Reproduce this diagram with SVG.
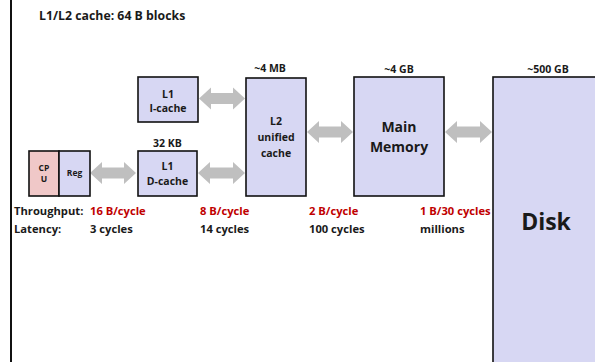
<svg xmlns="http://www.w3.org/2000/svg" width="595" height="362" viewBox="0 0 595 362">
<style>
text{font-family:"Open Sans","Liberation Sans",sans-serif;font-weight:700;fill:#1a1a1a}
.box{fill:#d7d7f3;stroke:#111;stroke-width:1.6}
.cpu{fill:#f0c8c8;stroke:#111;stroke-width:1.6}
.arr{fill:#bfbfbf}
.s{font-size:10.5px}
.t{font-size:11.2px}
.c{text-anchor:middle}
.red{fill:#c00000}
</style>
<rect width="595" height="362" fill="#fff"/>
<line x1="11" y1="0" x2="11" y2="362" stroke="#111" stroke-width="2"/>
<text x="39" y="19.5" font-size="12.3">L1/L2 cache: 64 B blocks</text>

<g id="connectors">
<path class="arr" d="M90,173 L102,162 L102,167.5 L124,167.5 L124,162 L136,173 L124,184 L124,178.5 L102,178.5 L102,184 Z"/>
<path class="arr" d="M198,173 L210,162 L210,167.5 L233,167.5 L233,162 L245,173 L233,184 L233,178.5 L210,178.5 L210,184 Z"/>
<path class="arr" d="M199,98.5 L211,87.5 L211,93 L233,93 L233,87.5 L245,98.5 L233,109.5 L233,104 L211,104 L211,109.5 Z"/>
<path class="arr" d="M307,132 L319,121 L319,126.5 L341,126.5 L341,121 L353,132 L341,143 L341,137.5 L319,137.5 L319,143 Z"/>
<path class="arr" d="M445,132 L457,121 L457,126.5 L480,126.5 L480,121 L492,132 L480,143 L480,137.5 L457,137.5 L457,143 Z"/>
</g>

<g id="cpu">
<rect class="cpu" x="29" y="151" width="30" height="45"/>
<text class="c" x="44" y="171" font-size="8.5">CP</text>
<text class="c" x="44" y="181.5" font-size="8.5">U</text>
</g>
<g id="reg">
<rect class="box" x="59" y="151" width="31" height="45"/>
<text class="c" x="74.5" y="176" font-size="8.5">Reg</text>
</g>
<g id="l1i">
<rect class="box" x="138" y="77" width="60" height="45"/>
<text class="c s" x="168" y="97.5">L1</text>
<text class="c s" x="168" y="111.5">I-cache</text>
</g>
<g id="l1d">
<text class="c s" x="167.5" y="146.5">32 KB</text>
<rect class="box" x="138" y="151" width="59" height="45"/>
<text class="c s" x="167.5" y="170">L1</text>
<text class="c s" x="167.5" y="185">D-cache</text>
</g>
<g id="l2">
<text class="c s" x="270" y="72">~4 MB</text>
<rect class="box" x="246" y="78" width="60" height="118"/>
<text class="c s" x="276" y="125">L2</text>
<text class="c s" x="276" y="141">unified</text>
<text class="c s" x="276" y="157">cache</text>
</g>
<g id="mem">
<text class="c s" x="399" y="73">~4 GB</text>
<rect class="box" x="354" y="77" width="90" height="119"/>
<text class="c" x="399" y="132" font-size="14">Main</text>
<text class="c" x="399" y="152" font-size="14">Memory</text>
</g>
<g id="disk">
<text class="c s" x="548" y="73">~500 GB</text>
<rect class="box" x="493" y="77" width="120" height="300"/>
<text class="c" x="546" y="230" font-size="23">Disk</text>
</g>

<g id="stats" class="t">
<text x="14" y="215">Throughput:</text>
<text x="14" y="233">Latency:</text>
<text class="red" x="90" y="215">16 B/cycle</text>
<text x="90" y="233">3 cycles</text>
<text class="red" x="200" y="215">8 B/cycle</text>
<text x="200" y="233">14 cycles</text>
<text class="red" x="309" y="215">2 B/cycle</text>
<text x="309" y="233">100 cycles</text>
<text class="red" x="420" y="215">1 B/30 cycles</text>
<text x="420" y="233">millions</text>
</g>
</svg>
